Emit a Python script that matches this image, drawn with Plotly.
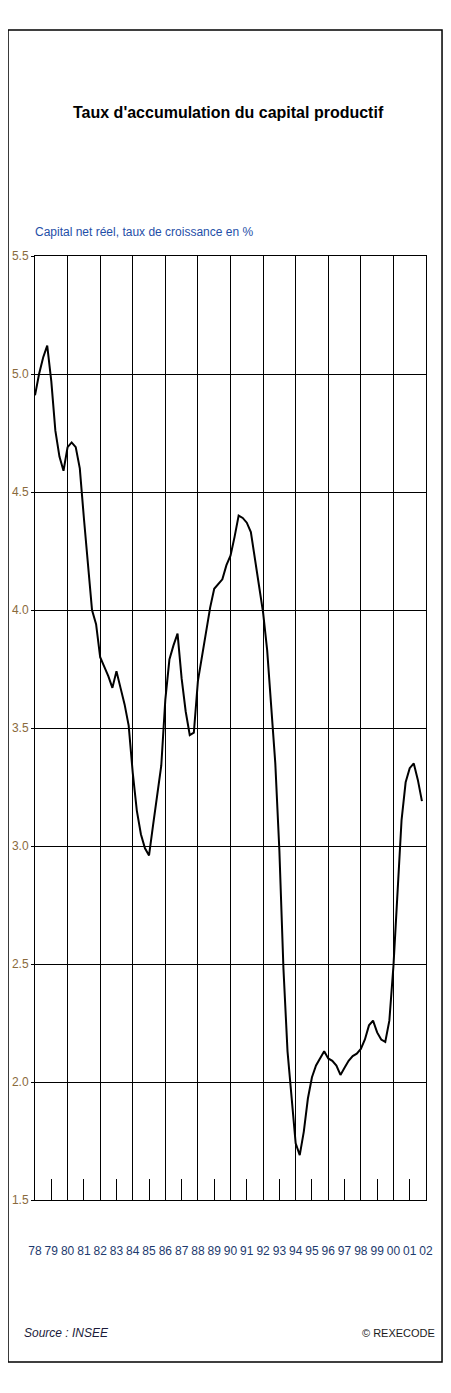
import pandas as pd
import plotly.graph_objects as go

# capital net reel, taux de croissance en % (trimestriel, 1978T1 - 2001T4)
rate = [
    4.91, 5.00, 5.07, 5.12,  # 78
    4.97, 4.76, 4.65, 4.59,  # 79
    4.69, 4.71, 4.69, 4.60,  # 80
    4.39, 4.20, 4.00, 3.94,  # 81
    3.80, 3.76, 3.72, 3.67,  # 82
    3.74, 3.67, 3.60, 3.51,  # 83
    3.31, 3.15, 3.05, 2.99,  # 84
    2.96, 3.09, 3.21, 3.34,  # 85
    3.62, 3.79, 3.85, 3.90,  # 86
    3.71, 3.57, 3.47, 3.48,  # 87
    3.70, 3.81, 3.92, 4.01,  # 88
    4.09, 4.11, 4.13, 4.19,  # 89
    4.23, 4.31, 4.40, 4.39,  # 90
    4.37, 4.33, 4.22, 4.10,  # 91
    3.99, 3.83, 3.60, 3.35,  # 92
    2.98, 2.48, 2.13, 1.92,  # 93
    1.74, 1.69, 1.79, 1.93,  # 94
    2.02, 2.07, 2.10, 2.13,  # 95
    2.10, 2.09, 2.07, 2.03,  # 96
    2.06, 2.09, 2.11, 2.12,  # 97
    2.14, 2.18, 2.24, 2.26,  # 98
    2.21, 2.18, 2.17, 2.26,  # 99
    2.49, 2.80, 3.11, 3.27,  # 00
    3.33, 3.35, 3.28, 3.19,  # 01
]
label_years = list(range(1978, 2003))
year_labels = ["78", "79", "80", "81", "82", "83", "84", "85", "86", "87", "88", "89",
               "90", "91", "92", "93", "94", "95", "96", "97", "98", "99", "00", "01", "02"]

title = "Taux d'accumulation du capital productif"
subtitle = "Capital net réel, taux de croissance en %"

FONT = "Liberation Sans, Arial, sans-serif"

# quarters -> decimal years
dates = pd.date_range("1978-01-01", periods=len(rate), freq="QS")
x = dates.year + (dates.month - 1) / 12

fig = go.Figure()
fig.add_trace(go.Scatter(x=x, y=rate, mode="lines",
                         line=dict(color="black", width=2), showlegend=False))
# empty trace so the 2-year grid axis gets drawn
fig.add_trace(go.Scatter(x=[], y=[], xaxis="x2", showlegend=False, hoverinfo="skip"))

# page body has an 8px margin, so the figure is 8px smaller than the window
fig.update_layout(
    width=443, height=1385,
    margin=dict(l=27, r=25, t=248, b=193),
    paper_bgcolor="white", plot_bgcolor="white",
    font=dict(family=FONT, color="black"),
    xaxis=dict(range=[1978, 2002], tickvals=label_years, ticktext=year_labels,
               tickangle=0, showgrid=False, zeroline=False, automargin=False,
               ticks="inside", ticklen=21, tickwidth=1, tickcolor="black",
               showline=True, linecolor="black", linewidth=1, mirror=True,
               ticklabelstandoff=40,
               tickfont=dict(family=FONT, size=12, color="#1d3a6e")),
    xaxis2=dict(range=[1978, 2002], overlaying="x", anchor="y", dtick=2, tick0=1978,
                showgrid=True, gridcolor="black", gridwidth=1, automargin=False,
                showticklabels=False, ticks="", zeroline=False),
    yaxis=dict(range=[1.5, 5.5], dtick=0.5, tickformat=".1f",
               showgrid=True, gridcolor="black", gridwidth=1, zeroline=False,
               automargin=False,
               ticks="outside", ticklen=3, tickcolor="black",
               showline=True, linecolor="black", linewidth=1, mirror=True,
               tickfont=dict(family=FONT, size=12, color="#8a6a3c")),
)

# outer frame
fig.add_shape(type="rect", xref="paper", yref="paper",
              x0=-0.069, x1=1.041, y0=-0.1716, y1=1.2394,
              line=dict(color="black", width=1.5), layer="below")

fig.add_annotation(text="<b>" + title + "</b>", xref="paper", yref="paper",
                   x=0.494, y=1.1525, showarrow=False, xanchor="center", yanchor="middle",
                   font=dict(family=FONT, size=16, color="black"))
fig.add_annotation(text=subtitle, xref="paper", yref="paper",
                   x=-0.005, y=1.0254, showarrow=False, xanchor="left", yanchor="middle",
                   font=dict(family=FONT, size=12, color="#1f4fa8"))
fig.add_annotation(text="<i>Source : INSEE</i>", xref="paper", yref="paper",
                   x=-0.033, y=-0.1409, showarrow=False, xanchor="left", yanchor="middle",
                   font=dict(family=FONT, size=12, color="#1b1b3a"))
fig.add_annotation(text="© REXECODE", xref="paper", yref="paper",
                   x=1.028, y=-0.1409, showarrow=False, xanchor="right", yanchor="middle",
                   font=dict(family=FONT, size=11, color="#1b1b1b"))

fig.write_html("out.html")
